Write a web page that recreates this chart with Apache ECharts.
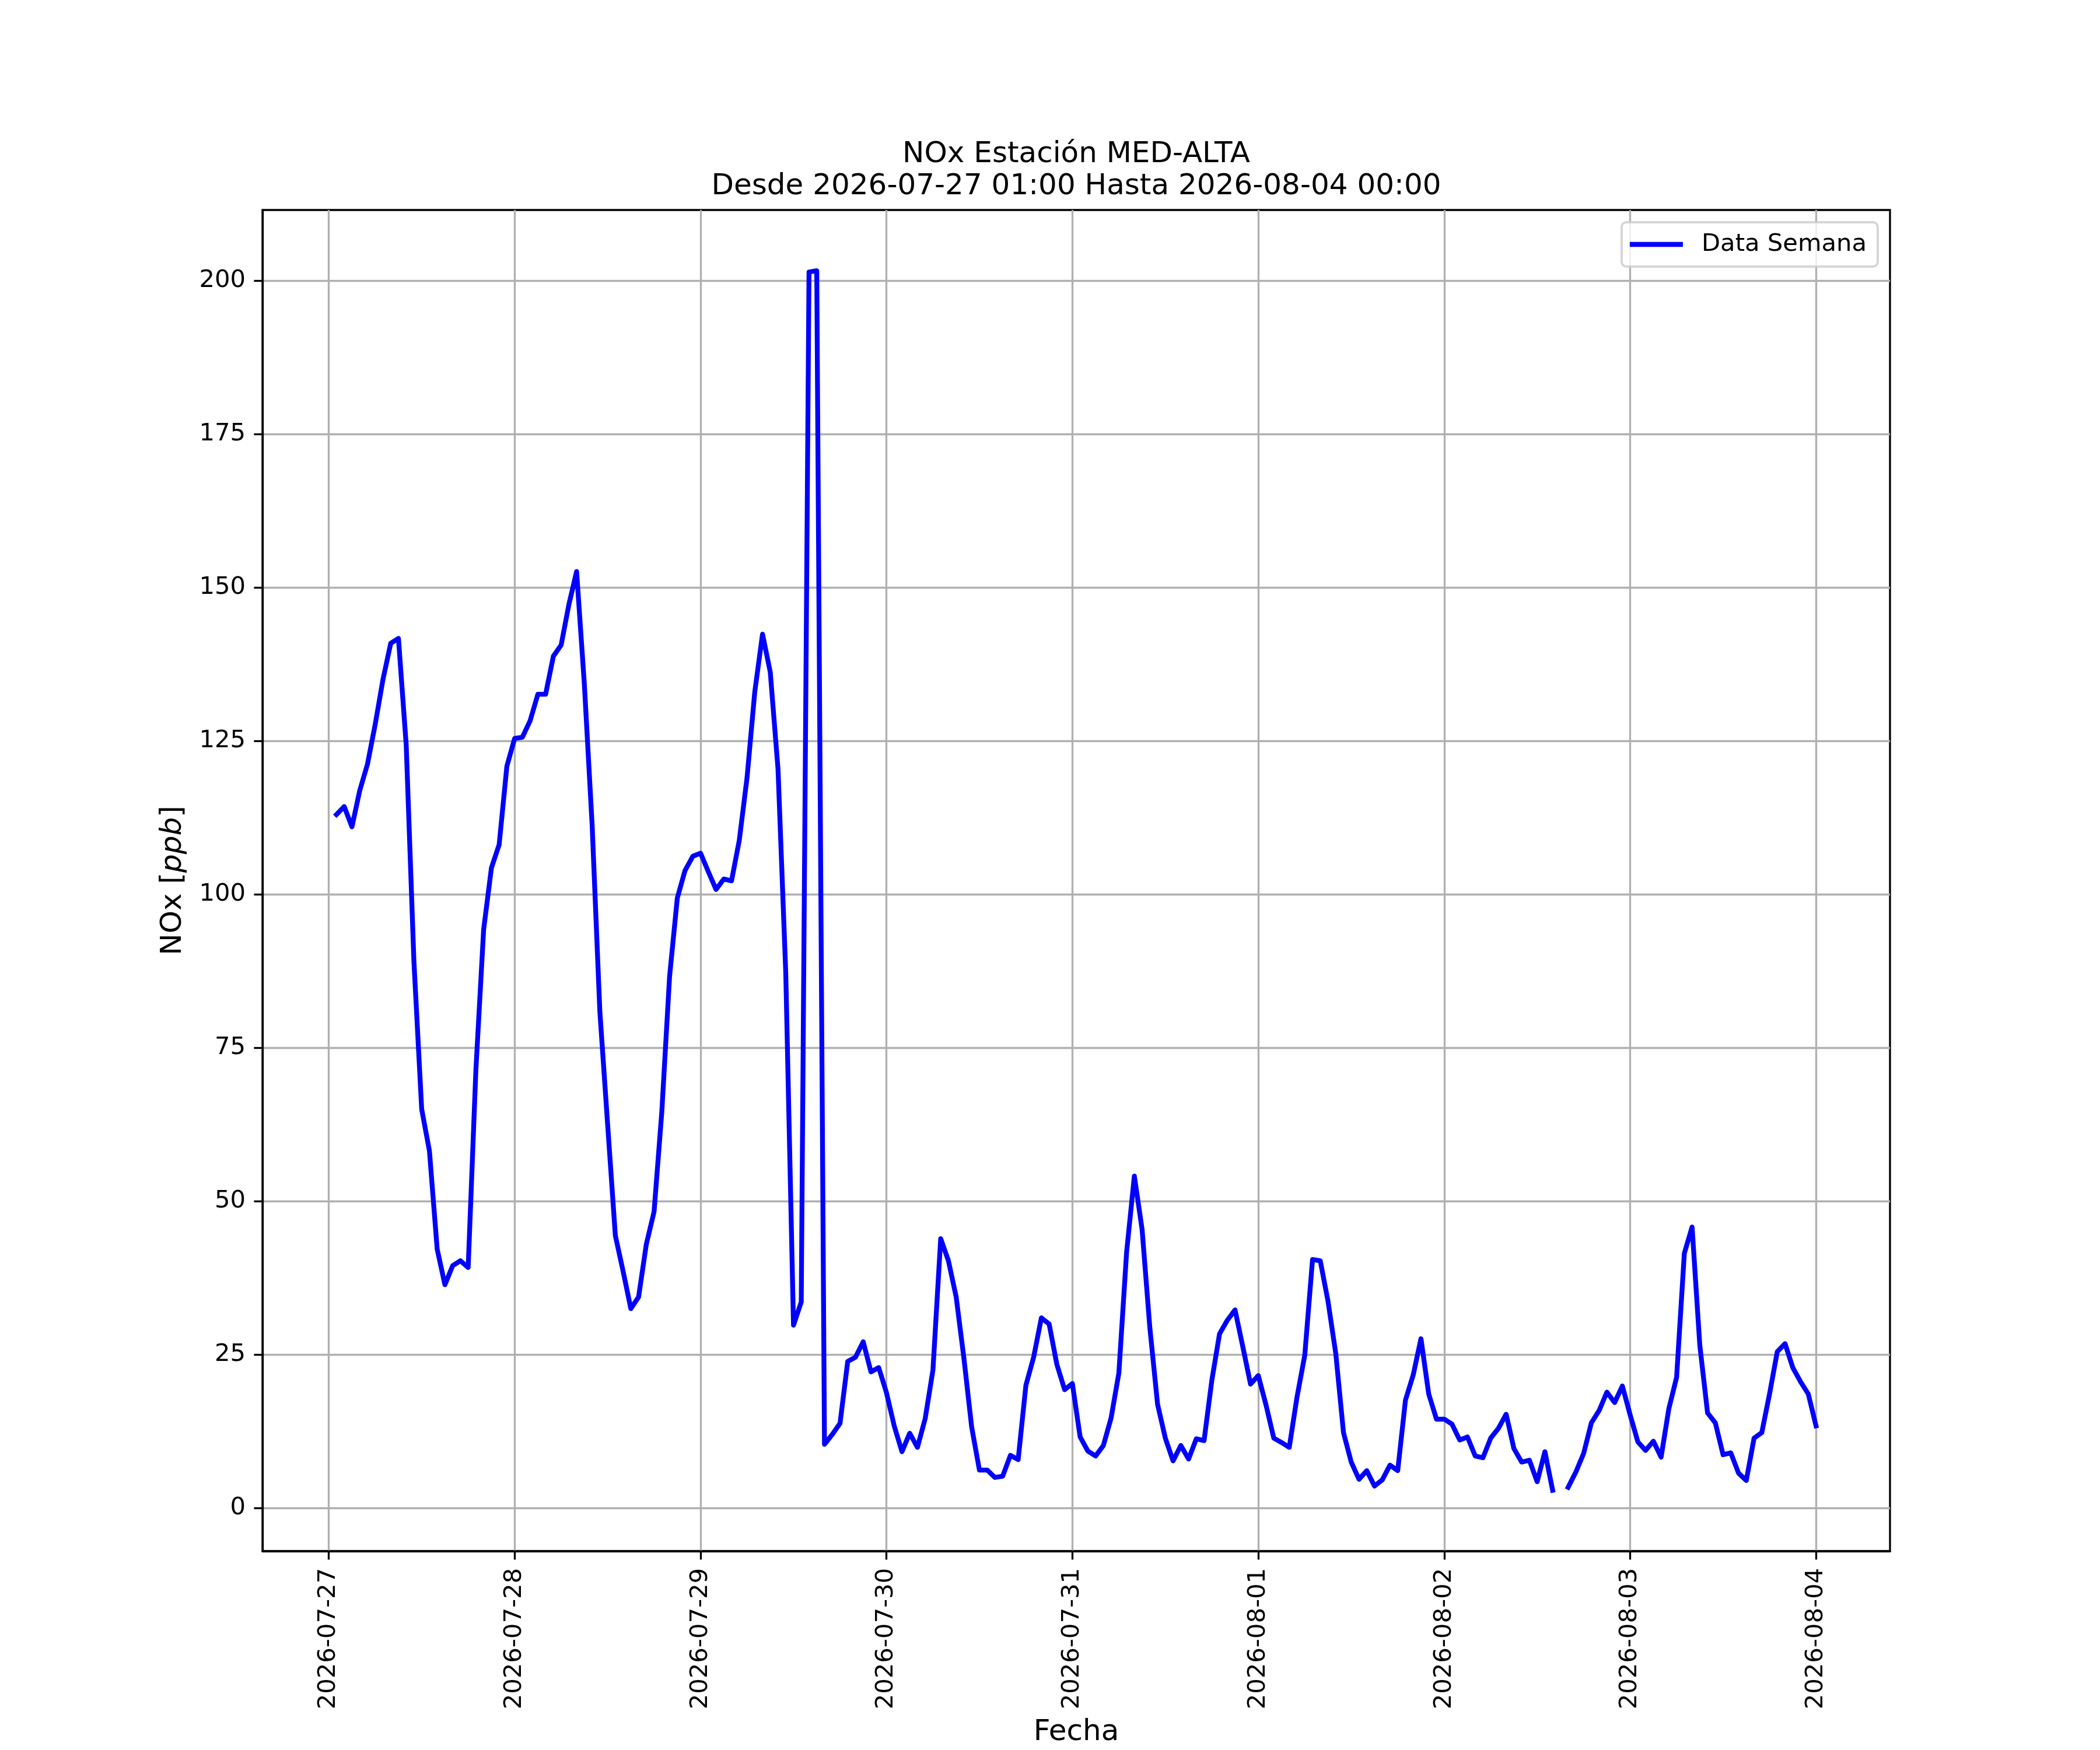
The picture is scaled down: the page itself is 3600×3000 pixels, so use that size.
<!DOCTYPE html>
<html><head><meta charset="utf-8">
<script src="https://cdn.jsdelivr.net/npm/echarts@6/dist/echarts.min.js"></script>
<style>html,body{margin:0;padding:0;background:#fff}#c{width:3600px;height:3000px}</style>
</head><body><div id="c"></div>
<script>
// Hourly NOx values, 2026-07-27 01:00 .. 2026-08-04 00:00 (24 per block)
const day0727 = [113.0,114.3,111.0,116.9,121.2,127.7,135.0,140.9,141.7,124.4,89.0,65.0,58.2,42.2,36.4,39.5,40.3,39.2,71.5,94.3,104.3,108.1,120.9,125.4];
const day0728 = [125.6,128.3,132.6,132.6,138.8,140.6,147.2,152.6,134.2,111.4,80.9,62.6,44.4,38.6,32.5,34.4,43.0,48.3,64.6,86.6,99.4,103.9,106.2,106.7];
const day0729 = [103.7,100.8,102.5,102.2,108.8,119.0,133.0,142.4,136.2,120.4,87.2,29.8,33.6,201.4,201.6,10.4,12.0,13.8,23.9,24.6,27.1,22.2,22.9,18.8];
const day0730 = [13.4,9.2,12.2,9.9,14.6,22.5,43.9,40.3,34.4,24.4,13.2,6.2,6.2,5.0,5.2,8.6,7.9,20.0,24.6,31.0,30.0,23.4,19.3,20.3];
const day0731 = [11.6,9.3,8.5,10.2,14.7,22.0,41.7,54.1,45.4,29.4,16.9,11.4,7.7,10.2,8.0,11.3,11.0,20.8,28.4,30.6,32.3,26.3,20.2,21.6];
const day0801 = [16.8,11.4,10.7,9.9,18.1,24.9,40.5,40.3,33.7,25.2,12.3,7.5,4.7,6.1,3.6,4.6,7.0,6.1,17.6,21.7,27.6,18.6,14.5,14.5];
const day0802 = [13.7,11.1,11.6,8.5,8.2,11.4,13.0,15.3,9.7,7.5,7.8,4.3,9.2,2.9,null,3.4,5.9,8.9,13.9,15.9,18.9,17.2,19.9,15.2];
const day0803 = [10.8,9.4,10.9,8.3,16.2,21.3,41.5,45.8,26.5,15.5,13.9,8.7,9.0,5.7,4.5,11.4,12.3,18.6,25.5,26.8,22.9,20.6,18.6,13.4];

const xTickLabels = ['2026-07-27','2026-07-28','2026-07-29','2026-07-30','2026-07-31','2026-08-01','2026-08-02','2026-08-03','2026-08-04'];
const yTicks = [0,25,50,75,100,125,150,175,200];

const seriesName = 'Data Semana';
const titleText = 'NOx Estación MED-ALTA\nDesde 2026-07-27 01:00 Hasta 2026-08-04 00:00';

// x axis in hours since 2026-07-27 00:00 UTC
const HOUR = 3600000;
const base = Date.parse(xTickLabels[0]);
const startHour = (Date.UTC(2026,6,27,1,0,0) - base)/HOUR;
const values = [].concat(day0727,day0728,day0729,day0730,day0731,day0801,day0802,day0803);
const seriesData = values.map((v,i)=>[startHour + i, v]);
const endHour = startHour + values.length - 1;
const xMargin = (endHour - startHour)*0.05;
const xTickValues = xTickLabels.map(s=>(Date.parse(s)-base)/HOUR);

const FONT = 'DejaVu Sans';
const chart = echarts.init(document.getElementById('c'), null, {renderer:'canvas', width:3600, height:3000, devicePixelRatio:1});
chart.setOption({
  animation:false,
  backgroundColor:'#ffffff',
  textStyle:{fontFamily:FONT},
  title:{
    text:titleText,
    left:1845, top:238, textAlign:'center', padding:0,
    textStyle:{fontFamily:FONT, fontSize:50, fontWeight:'normal', color:'#000', lineHeight:55}
  },
  legend:{
    right:381, top:381,
    padding:[17,19,17,14],
    backgroundColor:'rgba(255,255,255,0.8)',
    borderColor:'rgba(204,204,204,0.8)', borderWidth:4, borderRadius:8,
    icon:'rect', itemWidth:91, itemHeight:8.3,
    itemStyle:{borderWidth:0, color:'#0000ff'},
    textStyle:{fontFamily:FONT, fontSize:41.7, color:'#000', padding:[0,0,0,27]},
    data:[seriesName]
  },
  grid:{left:450, right:360, top:360, bottom:330, show:true, borderColor:'#000', borderWidth:3.3, backgroundColor:'#fff'},
  xAxis:{
    type:'value',
    min:startHour - xMargin, max:endHour + xMargin,
    name:'Fecha', nameLocation:'middle', nameGap:286,
    nameTextStyle:{fontFamily:FONT, fontSize:50, color:'#000'},
    axisLine:{show:true, onZero:false, lineStyle:{color:'#000', width:3.3}},
    axisTick:{show:true, inside:false, length:14.6, lineStyle:{color:'#000', width:3.3}, customValues:xTickValues},
    axisLabel:{show:true, rotate:90, margin:29, fontFamily:FONT, fontSize:41.7, color:'#000', customValues:xTickValues,
      formatter:function(v){return new Date(base + v*HOUR).toISOString().slice(0,10);}},
    splitLine:{show:true, lineStyle:{color:'#b0b0b0', width:3.3}}
  },
  yAxis:{
    type:'value',
    min:-7.0, max:211.5,
    name:'{n|NOx [}{i|ppb}{n|]}', nameLocation:'middle', nameGap:128, nameRotate:90,
    nameTextStyle:{fontFamily:FONT, fontSize:50, color:'#000',
      rich:{n:{fontFamily:FONT, fontSize:50, color:'#000'}, i:{fontFamily:FONT, fontSize:50, fontStyle:'italic', color:'#000'}}},
    axisLine:{show:true, onZero:false, lineStyle:{color:'#000', width:3.3}},
    axisTick:{show:true, inside:false, length:14.6, lineStyle:{color:'#000', width:3.3}, customValues:yTicks},
    axisLabel:{show:true, margin:29, fontFamily:FONT, fontSize:41.7, color:'#000', customValues:yTicks},
    splitLine:{show:true, lineStyle:{color:'#b0b0b0', width:3.3}}
  },
  series:[{
    name:seriesName, type:'line', data:seriesData,
    symbol:'none', showSymbol:false, connectNulls:false,
    itemStyle:{color:'#0000ff'},
    lineStyle:{color:'#0000ff', width:8.3, join:'round', cap:'square'},
    z:3
  }]
});
</script></body></html>
